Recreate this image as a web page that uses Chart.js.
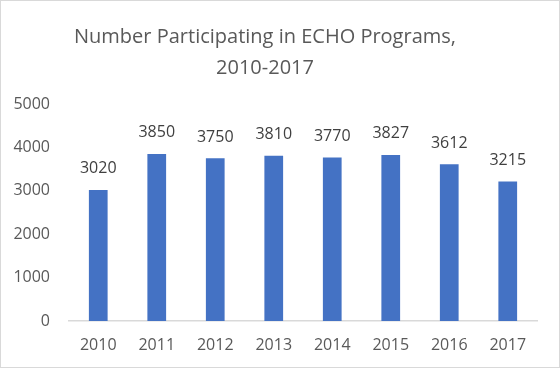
<!DOCTYPE html>
<html>
<head>
<meta charset="utf-8">
<script src="https://cdn.jsdelivr.net/npm/chart.js@4"></script>
<style>
  html, body { margin: 0; padding: 0; background: #fff; }
  #wrap {
    width: 560px;
    height: 368px;
    box-sizing: border-box;
    border: 1px solid #d9d9d9;
    position: relative;
  }
</style>
</head>
<body>
<div id="wrap"><canvas id="chart"></canvas></div>
<script>
const YEARS = ['2010', '2011', '2012', '2013', '2014', '2015', '2016', '2017'];
const PARTICIPANTS = [3020, 3850, 3750, 3810, 3770, 3827, 3612, 3215];
const TITLE_LINES = ['Number Participating in ECHO Programs,', '2010-2017'];

const FONT_FAMILY = "'Open Sans', 'Liberation Sans', sans-serif";
const TEXT_COLOR = '#595959';
const BAR_COLOR = '#4472C4';

// draws the value above each bar (no datalabels plugin offline)
const valueLabels = {
  id: 'valueLabels',
  afterDatasetsDraw(chart) {
    const { ctx } = chart;
    const meta = chart.getDatasetMeta(0);
    ctx.save();
    ctx.font = `16px ${FONT_FAMILY}`;
    ctx.fillStyle = '#404040';
    ctx.textAlign = 'center';
    ctx.textBaseline = 'middle';
    meta.data.forEach((bar, i) => {
      ctx.fillText(String(PARTICIPANTS[i]), bar.x, bar.y - 21);
    });
    ctx.restore();
  }
};

new Chart(document.getElementById('chart'), {
  type: 'bar',
  data: {
    labels: YEARS,
    datasets: [{
      data: PARTICIPANTS,
      backgroundColor: BAR_COLOR,
      categoryPercentage: 1,
      barPercentage: 0.32
    }]
  },
  options: {
    responsive: true,
    maintainAspectRatio: false,
    animation: false,
    layout: {
      // title in the reference sits a little left of centre
      padding: { left: -8, right: 22, top: 0, bottom: 12 }
    },
    plugins: {
      legend: { display: false },
      tooltip: { enabled: false },
      title: {
        display: true,
        text: TITLE_LINES,
        color: TEXT_COLOR,
        font: { family: FONT_FAMILY, size: 20, weight: 'normal', lineHeight: 1.55 },
        padding: { top: 21, bottom: 20 }
      }
    },
    scales: {
      x: {
        grid: { display: false, drawTicks: false },
        border: { display: true, color: '#d9d9d9', width: 1.5 },
        ticks: {
          color: TEXT_COLOR,
          padding: 15,
          maxRotation: 0,
          font: { family: FONT_FAMILY, size: 16 }
        },
        afterFit: (scale) => { scale.height = 34; }
      },
      y: {
        min: 0,
        max: 5000,
        grid: { display: false, drawTicks: false },
        border: { display: false },
        ticks: {
          stepSize: 1000,
          color: TEXT_COLOR,
          padding: 19,
          font: { family: FONT_FAMILY, size: 16 },
          callback: (value) => String(value)
        },
        afterFit: (scale) => { scale.width = 76; }
      }
    }
  },
  plugins: [valueLabels]
});
</script>
</body>
</html>
